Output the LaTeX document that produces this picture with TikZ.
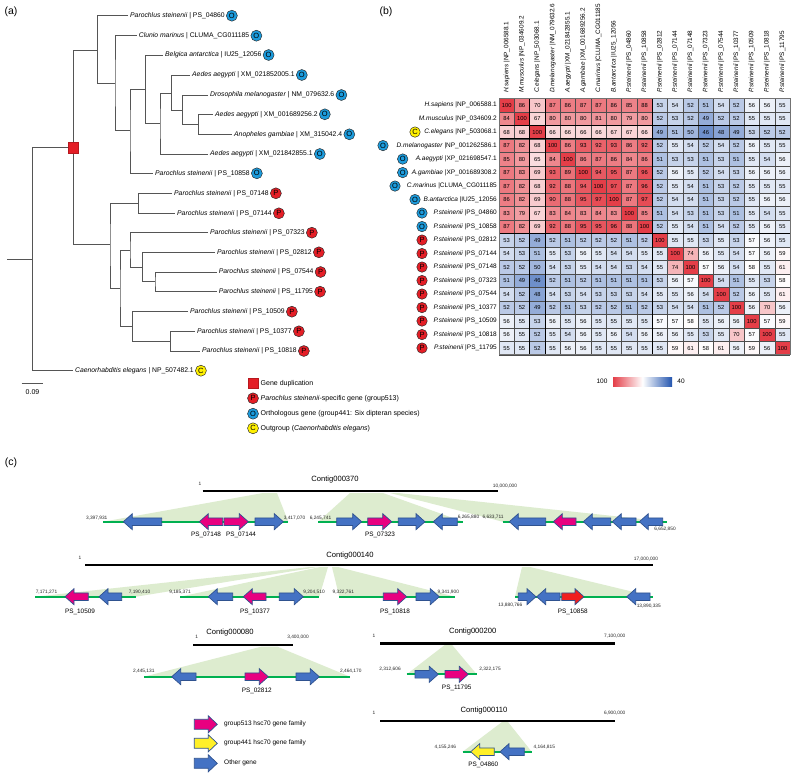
\documentclass[tikz,border=0pt]{standalone}
\usepackage{fontspec}
\setmainfont{Liberation Sans}
\definecolor{hmred}{RGB}{228,62,72}
\definecolor{hmblue}{RGB}{35,85,175}
\definecolor{circO}{RGB}{28,155,220}
\definecolor{circP}{RGB}{228,30,38}
\definecolor{circC}{RGB}{255,240,0}
\definecolor{gblue}{RGB}{68,114,196}
\definecolor{gedge}{RGB}{47,82,143}
\definecolor{gmag}{RGB}{232,0,128}
\definecolor{gred}{RGB}{240,30,30}
\definecolor{gyel}{RGB}{255,240,40}
\definecolor{gline}{RGB}{0,176,80}
\definecolor{wedgec}{RGB}{221,236,207}
\definecolor{treec}{RGB}{85,85,85}
\def\gb{3.8}\def\gH{8}\def\gh{9}
\newcommand\geneR[4]{\filldraw[gene, fill=#4] ({#1},{#3-\gb}) -- ({#2-\gh},{#3-\gb}) -- ({#2-\gh},{#3-\gH}) -- ({#2},{#3}) -- ({#2-\gh},{#3+\gH}) -- ({#2-\gh},{#3+\gb}) -- ({#1},{#3+\gb}) -- cycle;}
\newcommand\geneL[4]{\filldraw[gene, fill=#4] ({#2},{#3-\gb}) -- ({#1+\gh},{#3-\gb}) -- ({#1+\gh},{#3-\gH}) -- ({#1},{#3}) -- ({#1+\gh},{#3+\gH}) -- ({#1+\gh},{#3+\gb}) -- ({#2},{#3+\gb}) -- cycle;}
\newcommand\leaf[4]{\node[leaflab] (l#1) at ([xshift=2pt]t#1) {#3};
  \node[circ, fill=circ#4, anchor=west] at ([xshift=1.2pt]l#1.east) {#4};}
\begin{document}
\begin{tikzpicture}[x=1pt,y=-1pt,
  every node/.style={inner sep=0pt},
  tr/.style={draw=treec, line width=0.75pt},
  circ/.style={circle, draw=black!85, line width=0.45pt, minimum size=11pt, inner sep=0pt, font=\fontsize{7.5}{8}\selectfont},
  leaflab/.style={anchor=west, font=\fontsize{6.8}{8}\selectfont},
  leg/.style={anchor=west, font=\fontsize{7}{8}\selectfont},
  dup/.style={rectangle, fill=circP, draw=circP!80!black, line width=0.3pt, minimum size=10.5pt},
  panel/.style={font=\fontsize{10.5}{12}\selectfont},
  rowlab/.style={anchor=east, font=\fontsize{6.5}{7}\selectfont},
  collab/.style={anchor=west, rotate=90, font=\fontsize{6.4}{7}\selectfont},
  num/.style={font=\fontsize{5.8}{6}\selectfont},
  gridc/.style={draw=black!70, line width=0.35pt},
  gene/.style={draw=gedge, line width=0.7pt, line join=miter},
  gl/.style={draw=gline, line width=1.8pt},
  cbar/.style={draw=black, line width=2.4pt},
  wedge/.style={fill=wedgec},
  coord/.style={font=\fontsize{4.8}{5}\selectfont, text=black!85},
  glab/.style={font=\fontsize{6.4}{7}\selectfont},
  ctitle/.style={font=\fontsize{7.6}{8}\selectfont},
  cleg/.style={anchor=west, font=\fontsize{6.5}{7}\selectfont}]
\useasboundingbox (0,0) rectangle (793,776);
\fill[white] (0,0) rectangle (793,776);

% ================= (a) tree =================
\node[panel] at (11,12) {(a)};
\coordinate (nR0) at (7,259);
\coordinate (nR) at (32.3,259);
\coordinate (nD) at (73.3,147.7);
\coordinate (nA) at (97.3,50.7);
\coordinate (nB) at (115,83.3);
\coordinate (nC) at (130,130);
\coordinate (nE) at (145.7,89.3);
\coordinate (nF) at (160,123.5);
\coordinate (nG) at (171.7,93);
\coordinate (nH) at (182.7,110);
\coordinate (nI) at (198.3,124.3);
\coordinate (nJ) at (110,244);
\coordinate (nK) at (138.3,203.3);
\coordinate (nL) at (120,288.3);
\coordinate (nM) at (130,250);
\coordinate (nN) at (142.7,267);
\coordinate (nO) at (155,281.8);
\coordinate (nP) at (132.7,326);
\coordinate (nQ) at (170.7,341);
\coordinate (t1) at (128,15.7);
\coordinate (t2) at (136.7,35.7);
\coordinate (t3) at (163,55);
\coordinate (t4) at (190,75);
\coordinate (t5) at (208,95);
\coordinate (t6) at (213,114.3);
\coordinate (t7) at (232,134.3);
\coordinate (t8) at (208,154);
\coordinate (t9) at (153,173.3);
\coordinate (t10) at (172,193.3);
\coordinate (t11) at (175,213.3);
\coordinate (t12) at (208,232.7);
\coordinate (t13) at (215,252.3);
\coordinate (t14) at (216.7,272);
\coordinate (t15) at (216.7,291.7);
\coordinate (t16) at (188,311.7);
\coordinate (t17) at (195,331.3);
\coordinate (t18) at (200,351);
\coordinate (t19) at (73,370.7);

\draw[tr] (nR0) -- (nR);
\draw[tr] (nD) -| (nR) |- (t19);
\draw[tr] (nA) -| (nD) |- (nJ);
\draw[tr] (t1) -| (nA) |- (nB);
\draw[tr] (t2) -| (nB) |- (nC);
\draw[tr] (nE) -| (nC) |- (t9);
\draw[tr] (t3) -| (nE) |- (nF);
\draw[tr] (nG) -| (nF) |- (t8);
\draw[tr] (t4) -| (nG) |- (nH);
\draw[tr] (t5) -| (nH) |- (nI);
\draw[tr] (t6) -| (nI) |- (t7);
\draw[tr] (nK) -| (nJ) |- (nL);
\draw[tr] (t10) -| (nK) |- (t11);
\draw[tr] (nM) -| (nL) |- (nP);
\draw[tr] (t12) -| (nM) |- (nN);
\draw[tr] (t13) -| (nN) |- (nO);
\draw[tr] (t14) -| (nO) |- (t15);
\draw[tr] (t16) -| (nP) |- (nQ);
\draw[tr] (t17) -| (nQ) |- (t18);
\node[dup] at (nD) {};

\leaf{1}{}{\textit{Parochlus steinenii} | PS\_04860}{O}
\leaf{2}{}{\textit{Clunio marinus} | CLUMA\_CG011185}{O}
\leaf{3}{}{\textit{Belgica antarctica} | IU25\_12056}{O}
\leaf{4}{}{\textit{Aedes aegypti} | XM\_021852005.1}{O}
\leaf{5}{}{\textit{Drosophila melanogaster} | NM\_079632.6}{O}
\leaf{6}{}{\textit{Aedes aegypti} | XM\_001689256.2}{O}
\leaf{7}{}{\textit{Anopheles gambiae} | XM\_315042.4}{O}
\leaf{8}{}{\textit{Aedes aegypti} | XM\_021842855.1}{O}
\leaf{9}{}{\textit{Parochlus steinenii} | PS\_10858}{O}
\leaf{10}{}{\textit{Parochlus steinenii} | PS\_07148}{P}
\leaf{11}{}{\textit{Parochlus steinenii} | PS\_07144}{P}
\leaf{12}{}{\textit{Parochlus steinenii} | PS\_07323}{P}
\leaf{13}{}{\textit{Parochlus steinenii} | PS\_02812}{P}
\leaf{14}{}{\textit{Parochlus steinenii} | PS\_07544}{P}
\leaf{15}{}{\textit{Parochlus steinenii} | PS\_11795}{P}
\leaf{16}{}{\textit{Parochlus steinenii} | PS\_10509}{P}
\leaf{17}{}{\textit{Parochlus steinenii} | PS\_10377}{P}
\leaf{18}{}{\textit{Parochlus steinenii} | PS\_10818}{P}
\leaf{19}{}{\textit{Caenorhabditis elegans} | NP\_507482.1}{C}

% scale bar
\coordinate (sb1) at (21.7,383.3);
\coordinate (sb2) at (43.3,383.3);
\draw[tr] (sb1) -- (sb2);
\node[leg, anchor=center] (sbl) at (32.5,392.5) {0.09};

% legend (a)
\node[dup] (lg1) at (253,383.3) {};
\node[leg] at (260.5,383.3) {Gene duplication};
\node[circ, fill=circP] (lg2) at (253,398.3) {P};
\node[leg] at (260.5,398.3) {\textit{Parochlus steinenii}-specific gene (group513)};
\node[circ, fill=circO] (lg3) at (253,413.7) {O};
\node[leg] at (260.5,413.7) {Orthologous gene (group441: Six dipteran species)};
\node[circ, fill=circC] (lg4) at (253,428.3) {C};
\node[leg] at (260.5,428.3) {Outgroup (\textit{Caenorhabditis elegans})};

% ================= (b) heatmap =================
\node[panel] at (386,12) {(b)};
\def\hx{499}\def\hy{98.3}\def\cw{15.32}\def\ch{13.5}
\foreach \row [count=\i] in {
{100,86,70,87,86,87,87,86,85,88,53,54,52,51,54,52,56,56,55},
{84,100,67,80,80,80,81,80,79,80,52,53,52,49,52,52,55,55,55},
{68,68,100,66,66,66,66,67,67,66,49,51,50,46,48,49,53,52,52},
{87,82,68,100,86,93,92,93,86,92,52,55,54,52,54,52,56,55,55},
{85,80,65,84,100,86,87,86,84,86,51,53,53,51,53,51,55,54,56},
{87,83,69,93,89,100,94,95,87,96,52,56,55,52,54,53,56,56,56},
{87,82,68,92,88,94,100,97,87,96,52,55,54,51,53,52,55,55,55},
{86,82,69,90,88,95,97,100,87,97,52,54,54,51,53,52,55,56,56},
{83,79,67,83,84,83,84,83,100,85,51,54,53,51,53,51,55,54,55},
{87,82,69,92,88,95,95,96,88,100,52,55,54,51,54,52,55,56,55},
{53,52,49,52,51,52,52,52,51,52,100,55,55,53,55,53,57,56,55},
{54,53,51,55,53,56,55,54,54,55,55,100,74,56,55,54,57,56,59},
{52,52,50,54,53,55,54,54,53,54,55,74,100,57,56,54,58,55,61},
{51,49,46,52,51,52,51,51,51,51,53,56,57,100,54,51,55,53,58},
{54,52,48,54,53,54,53,53,53,54,55,55,56,54,100,52,56,55,61},
{52,52,49,52,51,53,52,52,51,52,53,54,54,51,52,100,56,70,56},
{56,55,53,56,55,56,55,55,55,55,57,57,58,55,56,56,100,57,59},
{56,55,52,55,54,56,55,56,54,56,56,56,55,53,55,70,57,100,55},
{55,55,52,55,56,56,55,55,55,55,55,59,61,58,61,56,59,56,100}}{
  \foreach \v [count=\j] in \row {
    \pgfmathsetmacro\tr{\v>57.5 ? (\v-57.5)/42.5*100 : 0}
    \pgfmathsetmacro\tb{\v<57.5 ? min(100,(57.5-\v)/17.5*100) : 0}
    \colorlet{tmpc}{hmred!\tr!white}
    \colorlet{cellc}{hmblue!\tb!tmpc}
    \fill[cellc] ({\hx+(\j-1)*\cw},{\hy+(\i-1)*\ch}) rectangle ++(\cw,\ch);
    \node[num] at ({\hx+(\j-0.5)*\cw},{\hy+(\i-0.5)*\ch}) {\v};
  }
}
\foreach \k in {0,...,19} {
  \draw[gridc] ({\hx+\k*\cw},\hy) -- ++(0,{19*\ch});
  \draw[gridc] (\hx,{\hy+\k*\ch}) -- ++({19*\cw},0);
}
\foreach \k in {2,3,10} {
  \draw[line width=0.9pt] ({\hx+\k*\cw},\hy) -- ++(0,{19*\ch});
  \draw[line width=0.9pt] (\hx,{\hy+\k*\ch}) -- ++({19*\cw},0);
}
\draw[draw=black!55, line width=0.8pt] (\hx,\hy) rectangle ++({19*\cw},{19*\ch});

\foreach \t [count=\j] in {
{\textit{H.sapiens} |NP\_006588.1},
{\textit{M.musculus} |NP\_034609.2},
{\textit{C.elegans} |NP\_503068.1},
{\textit{D.melanogaster} |NM\_079632.6},
{\textit{A.aegypti} |XM\_021842855.1},
{\textit{A.gambiae} |XM\_001689256.2},
{\textit{C.marinus} |CLUMA\_CG011185},
{\textit{B.antarctica} |IU25\_12056},
{\textit{P.steinenii} |PS\_04860},
{\textit{P.steinenii} |PS\_10858},
{\textit{P.steinenii} |PS\_02812},
{\textit{P.steinenii} |PS\_07144},
{\textit{P.steinenii} |PS\_07148},
{\textit{P.steinenii} |PS\_07323},
{\textit{P.steinenii} |PS\_07544},
{\textit{P.steinenii} |PS\_10377},
{\textit{P.steinenii} |PS\_10509},
{\textit{P.steinenii} |PS\_10818},
{\textit{P.steinenii} |PS\_11795}}{
  \node[collab] at ({\hx+(\j-0.5)*\cw},93) {\t};
}
\foreach \t [count=\i] in {
{\textit{H.sapiens} |NP\_006588.1},
{\textit{M.musculus} |NP\_034609.2},
{\textit{C.elegans} |NP\_503068.1},
{\textit{D.melanogaster} |NP\_001262586.1},
{\textit{A.aegypti} |XP\_021698547.1},
{\textit{A.gambiae} |XP\_001689308.2},
{\textit{C.marinus} |CLUMA\_CG011185},
{\textit{B.antarctica} |IU25\_12056},
{\textit{P.steinenii} |PS\_04860},
{\textit{P.steinenii} |PS\_10858},
{\textit{P.steinenii} |PS\_02812},
{\textit{P.steinenii} |PS\_07144},
{\textit{P.steinenii} |PS\_07148},
{\textit{P.steinenii} |PS\_07323},
{\textit{P.steinenii} |PS\_07544},
{\textit{P.steinenii} |PS\_10377},
{\textit{P.steinenii} |PS\_10509},
{\textit{P.steinenii} |PS\_10818},
{\textit{P.steinenii} |PS\_11795}}{
  \node[rowlab] at (497,{\hy+(\i-0.5)*\ch}) {\t};
}
\foreach \cx/\k/\i in {415/C/3,383/O/4,402.7/O/5,402.7/O/6,395/O/7,415/O/8,422/O/9,422/O/10,
  422/P/11,422/P/12,422/P/13,422/P/14,422/P/15,422/P/16,422/P/17,422/P/18,422/P/19}{
  \node[circ, fill=circ\k, minimum size=10.5pt] at (\cx,{\hy+(\i-0.5)*\ch}) {\k};
}
% colour bar
\shade[left color=hmred, right color=hmblue, middle color=white] (613,377) rectangle (672,386);
\node[num, font=\fontsize{6.5}{7}\selectfont] at (602,381.5) {100};
\node[num, font=\fontsize{6.5}{7}\selectfont] at (681,381.5) {40};

% ================= (c) synteny =================
\node[panel] at (11,463) {(c)};
% wedges
\fill[wedge] (263,493) -- (277,493) -- (288.3,521.7) -- (103.3,521.7) -- cycle;
\fill[wedge] (350,493) -- (383,493) -- (463.3,521.7) -- (318.3,521.7) -- cycle;
\fill[wedge] (390,493) -- (398,493) -- (666.7,521.7) -- (502.7,521.7) -- cycle;
\fill[wedge] (310,567) -- (318,567) -- (136,596.7) -- (35,596.7) -- cycle;
\fill[wedge] (320,567) -- (328,567) -- (319.3,596.7) -- (180,596.7) -- cycle;
\fill[wedge] (332,567) -- (338,567) -- (455,596.7) -- (339.3,596.7) -- cycle;
\fill[wedge] (522,567) -- (530,567) -- (653.3,596.7) -- (515,596.7) -- cycle;
\fill[wedge] (262,646.5) -- (277,646.5) -- (350,676.7) -- (144,676.7) -- cycle;
\fill[wedge] (445,644.8) -- (452,644.8) -- (476.7,674.3) -- (406.7,674.3) -- cycle;
\fill[wedge] (502,722) -- (508,722) -- (531.7,751.7) -- (462.7,751.7) -- cycle;

% contig bars
\draw[cbar] (202.7,491) -- (498.3,491);
\node[coord] at (200,484.3) {1};
\node[ctitle] at (335,479.3) {Contig000370};
\node[coord] at (505,485.7) {10,000,000};
\draw[cbar] (85,565) -- (652.7,565);
\node[coord] at (80,558.3) {1};
\node[ctitle] at (350,555.7) {Contig000140};
\node[coord] at (646,559) {17,000,000};
\draw[cbar] (193.3,645) -- (293.3,645);
\node[coord] at (196.7,637.3) {1};
\node[ctitle] at (230,632.3) {Contig000080};
\node[coord] at (298,637.3) {3,400,000};
\draw[cbar] (380,643.3) -- (615,643.3);
\node[coord] at (374,636) {1};
\node[ctitle] at (472.7,631.7) {Contig000200};
\node[coord] at (614.7,636) {7,100,000};
\draw[cbar] (380,720.7) -- (615,720.7);
\node[coord] at (374,712.7) {1};
\node[ctitle] at (484,711) {Contig000110};
\node[coord] at (614.7,713.3) {6,900,000};

% segments row 1
\draw[gl] (103.3,521.7) -- (288.3,521.7);
\draw[gl] (318.3,521.7) -- (463.3,521.7);
\draw[gl] (502.7,521.7) -- (666.7,521.7);
\geneL{123.3}{161.7}{521.7}{gblue}
\geneL{199.3}{222.7}{521.7}{gmag}
\geneR{224}{248.3}{521.7}{gmag}
\geneR{255}{283.3}{521.7}{gblue}
\geneR{336.7}{361.7}{521.7}{gblue}
\geneR{367.7}{391.7}{521.7}{gmag}
\geneR{398.3}{425}{521.7}{gblue}
\geneL{433.3}{457.3}{521.7}{gblue}
\geneL{509.3}{545.7}{521.7}{gblue}
\geneL{553.3}{576}{521.7}{gmag}
\geneL{583.3}{610.7}{521.7}{gblue}
\geneL{612.3}{636}{521.7}{gblue}
\geneL{639.3}{662.7}{521.7}{gblue}
\node[coord] at (96.7,517.7) {3,397,931};
\node[coord] at (294.5,517.7) {3,417,070};
\node[coord] at (320.5,517.7) {6,245,741};
\node[coord] at (468.5,517.3) {6,265,880};
\node[coord] at (493,517.3) {6,633,711};
\node[coord] at (665,529.3) {6,652,850};
\node[glab] at (206,535) {PS\_07148};
\node[glab] at (241,535) {PS\_07144};
\node[glab] at (380,535) {PS\_07323};

% segments row 2
\draw[gl] (35,596.7) -- (136,596.7);
\draw[gl] (180,596.7) -- (319.3,596.7);
\draw[gl] (339.3,596.7) -- (455,596.7);
\draw[gl] (515,596.7) -- (653.3,596.7);
\geneL{65}{88.3}{596.7}{gmag}
\geneL{99}{121.7}{596.7}{gblue}
\geneL{208.3}{232.7}{596.7}{gblue}
\geneL{243.3}{266}{596.7}{gmag}
\geneR{279.3}{303.3}{596.7}{gblue}
\geneR{383.3}{406.7}{596.7}{gmag}
\geneR{416}{439.3}{596.7}{gblue}
\geneR{518.3}{536}{596.7}{gblue}
\geneL{536.7}{560}{596.7}{gblue}
\geneR{561.7}{584}{596.7}{gred}
\geneL{626.7}{650}{596.7}{gblue}
\node[coord] at (46.5,592.3) {7,171,271};
\node[coord] at (139.5,592.3) {7,190,410};
\node[coord] at (180,592.3) {9,185,371};
\node[coord] at (314,592.3) {9,204,510};
\node[coord] at (343.3,592.3) {9,322,761};
\node[coord] at (448.3,592.3) {9,341,900};
\node[coord] at (510.3,605) {13,880,766};
\node[coord] at (648.8,605.7) {13,890,335};
\node[glab] at (80,611.7) {PS\_10509};
\node[glab] at (255,611.7) {PS\_10377};
\node[glab] at (395,611.7) {PS\_10818};
\node[glab] at (572.7,611.7) {PS\_10858};

% Contig000080 segment
\draw[gl] (144,676.7) -- (350,676.7);
\geneL{171.7}{196}{676.7}{gblue}
\geneR{245}{268.3}{676.7}{gmag}
\geneR{296}{319.3}{676.7}{gblue}
\node[coord] at (143.8,670.7) {2,445,131};
\node[coord] at (350.8,670.7) {2,464,170};
\node[glab] at (256.7,690.7) {PS\_02812};

% Contig000200 segment
\draw[gl] (406.7,674.3) -- (476.7,674.3);
\geneR{415}{438.3}{674.3}{gblue}
\geneR{445}{468.3}{674.3}{gmag}
\node[coord] at (390,669.3) {2,312,606};
\node[coord] at (490,669.3) {2,322,175};
\node[glab] at (456.7,688.3) {PS\_11795};

% Contig000110 segment
\draw[gl] (462.7,751.7) -- (531.7,751.7);
\geneL{470.7}{494.3}{751.7}{gyel}
\geneL{500}{524.3}{751.7}{gblue}
\node[coord] at (445.3,746.7) {4,155,246};
\node[coord] at (544.3,746.7) {4,164,815};
\node[glab] at (483.3,765) {PS\_04860};

% legend (c)
\def\gb{5}\def\gH{8.5}\def\gh{9}
\geneR{194.3}{217.3}{724.3}{gmag}
\geneR{194.3}{217.3}{743.3}{gyel}
\geneR{194.3}{217.3}{763.3}{gblue}
\node[cleg] at (224,724.3) {group513 hsc70 gene family};
\node[cleg] at (224,743.3) {group441 hsc70 gene family};
\node[cleg] at (224,763.3) {Other gene};
\end{tikzpicture}
\end{document}
